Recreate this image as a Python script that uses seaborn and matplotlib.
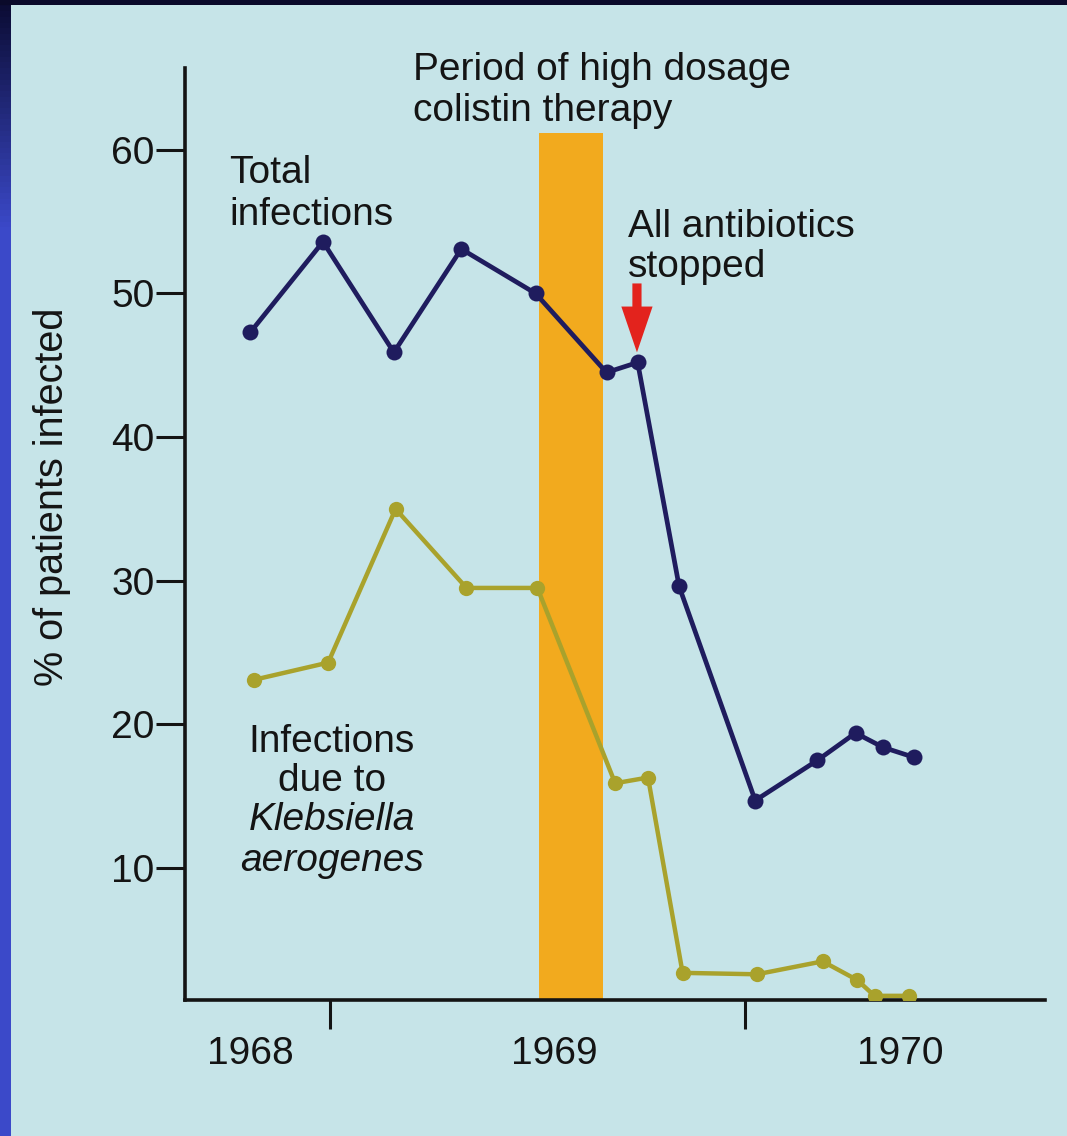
import numpy as np
import matplotlib
matplotlib.use('Agg')
import matplotlib.pyplot as plt
import seaborn as sns
from matplotlib.colors import LinearSegmentedColormap
from matplotlib.patches import Rectangle

# x values are months counted from the first year tick
months_total = [-2.3, -0.2, 1.85, 3.8, 5.95, 8.0, 8.9, 10.1, 12.3, 14.1, 15.2, 16.0, 16.9]
total_infections = [47.3, 53.6, 45.9, 53.1, 50.0, 44.5, 45.2, 29.6, 14.7, 17.5, 19.4, 18.4, 17.7]
months_kleb = [-2.2, -0.05, 1.9, 3.95, 6.0, 8.25, 9.2, 10.2, 12.35, 14.25, 15.25, 15.75, 16.75]
klebsiella_infections = [23.1, 24.3, 35.0, 29.5, 29.5, 15.9, 16.3, 2.7, 2.6, 3.5, 2.2, 1.1, 1.1]

y_ticks = [10, 20, 30, 40, 50, 60]
year_ticks = [0, 12]
year_labels = ['1968', '1969', '1970']
year_label_pos = [-2.3, 6.5, 16.5]

colistin_start, colistin_end, colistin_top = 6.05, 7.9, 61.2
stop_month, arrow_from, arrow_to = 8.88, 50.7, 45.9

W, H = 1067, 1136
bg = '#c6e4e8'
ink = '#141414'
navy = '#1f1c5e'
olive = '#a9a22c'


def fx(px):
    return px / W


def fy(py):
    return 1 - py / H


sns.set_theme(style='white')
plt.rcParams['font.family'] = ['Liberation Sans', 'DejaVu Sans']

fig = plt.figure(figsize=(W / 100, H / 100), dpi=100, facecolor=bg)
ax = fig.add_axes([fx(185), 136 / H, 860 / W, 932 / H])
ax.set_facecolor('none')
ymin = 0.81
ax.set_xlim(-4.19, 20.68)
ax.set_ylim(ymin, 65.7)

# colistin therapy band
ax.bar((colistin_start + colistin_end) / 2, colistin_top - ymin,
       width=colistin_end - colistin_start, bottom=ymin,
       color='#f2aa1e', linewidth=0, zorder=1)

sns.lineplot(x=months_total, y=total_infections, ax=ax, color=navy,
             linewidth=3.4, marker='o', markersize=11.5, markeredgewidth=0,
             zorder=4)
sns.lineplot(x=months_kleb, y=klebsiella_infections, ax=ax, color=olive,
             linewidth=3.2, marker='o', markersize=11, markeredgewidth=0,
             zorder=3)

# all antibiotics stopped arrow
ax.annotate('', xy=(stop_month, arrow_to), xytext=(stop_month, arrow_from),
            arrowprops=dict(arrowstyle='simple,head_length=1.1,head_width=0.75,tail_width=0.22',
                            color='#e3231d', lw=0, shrinkA=0, shrinkB=0,
                            mutation_scale=30), zorder=5)

# axes styling
for s in ['top', 'right']:
    ax.spines[s].set_visible(False)
for s in ['left', 'bottom']:
    ax.spines[s].set_linewidth(2.6)
    ax.spines[s].set_color(ink)

ax.set_yticks(y_ticks)
ax.tick_params(axis='y', left=True, direction='out', length=21, width=2.2,
               pad=1, labelsize=28, colors=ink)
ax.set_xticks(year_ticks)
ax.set_xticklabels([])
ax.tick_params(axis='x', which='major', bottom=True, direction='out',
               length=21, width=2.2, colors=ink)
ax.set_xticks(year_label_pos, minor=True)
ax.set_xticklabels(year_labels, minor=True)
ax.tick_params(axis='x', which='minor', bottom=True, length=0, pad=26,
               labelsize=28, labelcolor=ink)

ax.set_ylabel('% of patients infected', fontsize=28.5, color=ink, va='center')
ax.yaxis.set_label_coords(-0.1547, 0.54)

# annotations
fs = 28
fig.text(fx(413), fy(80), 'Period of high dosage', fontsize=fs, color=ink, va='baseline')
fig.text(fx(413), fy(121), 'colistin therapy', fontsize=fs, color=ink, va='baseline')
fig.text(fx(229), fy(183), 'Total', fontsize=fs, color=ink, va='baseline')
fig.text(fx(229), fy(225), 'infections', fontsize=fs, color=ink, va='baseline')
fig.text(fx(628), fy(237), 'All antibiotics', fontsize=fs, color=ink, va='baseline')
fig.text(fx(628), fy(277), 'stopped', fontsize=fs, color=ink, va='baseline')
fig.text(fx(332), fy(752), 'Infections', fontsize=fs, color=ink, va='baseline', ha='center')
fig.text(fx(332), fy(791), 'due to', fontsize=fs, color=ink, va='baseline', ha='center')
fig.text(fx(332), fy(830), 'Klebsiella', fontsize=fs, color=ink, va='baseline',
         ha='center', style='italic')
fig.text(fx(332), fy(871), 'aerogenes', fontsize=fs, color=ink, va='baseline',
         ha='center', style='italic')

# slide frame: dark top edge and blue left edge
fig.patches.append(Rectangle((0, fy(5)), 1, 5 / H, transform=fig.transFigure,
                             facecolor='#0a0a2a', edgecolor='none', zorder=10))
edge = fig.add_axes([0, 0, fx(11), 1])
grad = np.clip(np.linspace(0, 1, 200) * 5, 0, 1).reshape(-1, 1)
edge.imshow(grad, aspect='auto', extent=[0, 1, 0, 1], origin='upper',
            cmap=LinearSegmentedColormap.from_list('edge', ['#0b0c33', '#3b49c9']))
edge.axis('off')

fig.savefig('out.png', dpi=100, facecolor=bg)
